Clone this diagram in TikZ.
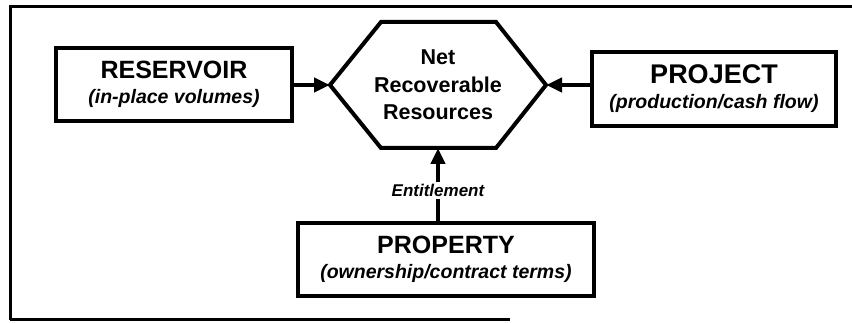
\documentclass[tikz,border=0pt]{standalone}
\usepackage{fontspec}
\setmainfont{Liberation Sans}
\usetikzlibrary{arrows.meta,positioning}
\newcommand{\subline}[1]{{\fontsize{19.5}{25}\selectfont\itshape #1}}
\tikzset{
  every picture/.style={x=1pt, y=-1pt, line width=4pt},
  block/.style={draw, rectangle, align=center, inner sep=0pt, font=\bfseries\fontsize{25}{25}\selectfont},
  hexa/.style={align=center, inner sep=0pt, minimum width=212pt, minimum height=122pt, font=\bfseries\fontsize{21.5}{27.5}\selectfont},
  feed/.style={-{Triangle[length=16pt,width=14pt]}, line width=4pt},
  label/.style={fill=white, inner sep=2pt, font=\bfseries\itshape\fontsize{17}{20}\selectfont},
  frame/.style={line width=3pt},
}

\begin{document}
\begin{tikzpicture}
\useasboundingbox (0,0) rectangle (852,323);
% frame of the scanned figure
\draw[frame] (10,320) -- (10,7) -- (852,7);
\draw[frame] (10,320) -- (510,320);
\node[hexa] (net) at (438,85) {Net\\Recoverable\\Resources};
\draw (net.west) -- ([xshift=51pt]net.north west) -- ([xshift=-50pt]net.north east) -- (net.east) -- ([xshift=-50pt]net.south east) -- ([xshift=51pt]net.south west) -- cycle;
\node[block, minimum width=236pt, minimum height=73pt] (res) at (174,84.5) {RESERVOIR\\\subline{(in-place volumes)}};
\node[block, minimum width=244pt, minimum height=74pt, font=\bfseries\fontsize{27}{25}\selectfont] (proj) at (714,89) {PROJECT\\\subline{(production/cash flow)}};
\node[block, minimum width=296pt, minimum height=73pt] (prop) at (446,259.5) {PROPERTY\\\subline{(ownership/contract terms)}};
\draw[feed] (res.east |- net.west) -- (net.west);
\draw[feed] (proj.west |- net.east) -- (net.east);
\draw[feed] (prop.north -| net.south) -- node[label, pos=0.42] (ent) {Entitlement} (net.south);
\end{tikzpicture}
\end{document}
